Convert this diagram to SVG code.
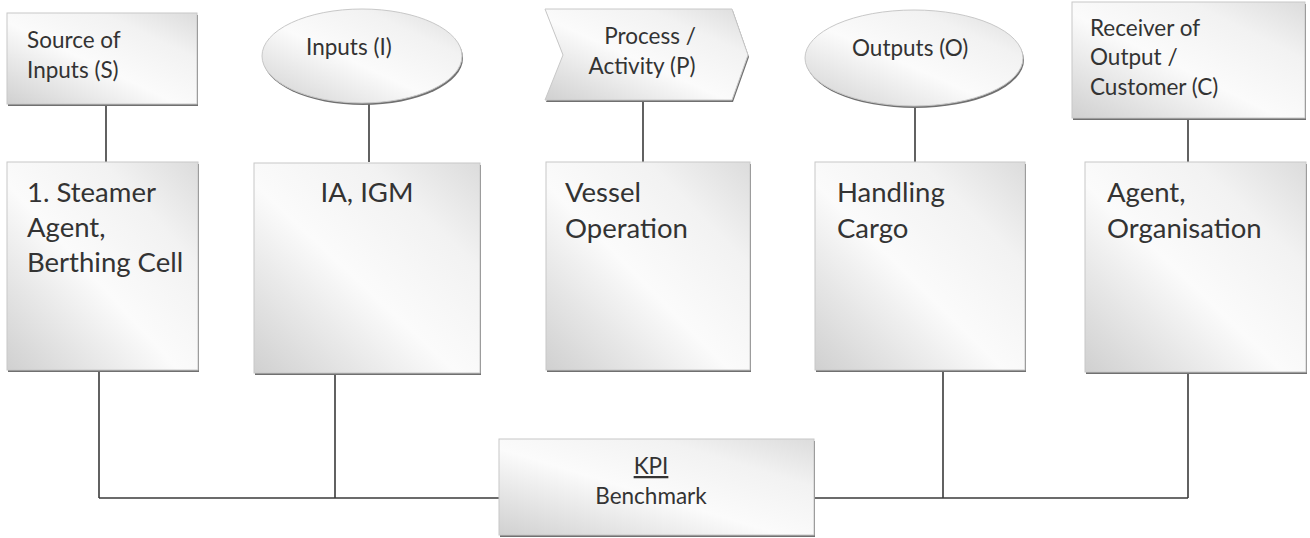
<svg xmlns="http://www.w3.org/2000/svg" width="1310" height="538" viewBox="0 0 1310 538">
<defs>
<linearGradient id="g" x1="0" y1="1" x2="1" y2="0">
<stop offset="0" stop-color="#d0d0d0"/>
<stop offset="0.45" stop-color="#fbfbfb"/>
<stop offset="0.75" stop-color="#f2f2f2"/>
<stop offset="1" stop-color="#dcdcdc"/>
</linearGradient>
<style>
.sh{fill:#707070}
.bx{fill:url(#g);stroke:#c8c8c8;stroke-width:1}
.t{font-family:Lato,"Liberation Sans",sans-serif;fill:#333333}
.s{font-size:22.5px}
.l{font-size:27.5px}
.c{stroke:#3a3a3a;stroke-width:1.6;fill:none}
</style>
</defs>
<rect width="1310" height="538" fill="#ffffff"/>
<g id="connectors">
<line class="c" x1="106" y1="104" x2="106" y2="162"/>
<line class="c" x1="369" y1="104" x2="369" y2="162"/>
<line class="c" x1="643" y1="100" x2="643" y2="162"/>
<line class="c" x1="915" y1="107" x2="915" y2="162"/>
<line class="c" x1="1188" y1="118" x2="1188" y2="162"/>
<line class="c" x1="99" y1="370" x2="99" y2="498"/>
<line class="c" x1="335" y1="373" x2="335" y2="498"/>
<line class="c" x1="943" y1="370" x2="943" y2="498"/>
<line class="c" x1="1188" y1="372" x2="1188" y2="498"/>
<polyline class="c" points="99,498 499,498"/>
<polyline class="c" points="814,498 1188,498"/>
</g>
<g id="source">
<rect class="sh" x="8" y="15" width="190" height="91"/>
<rect class="bx" x="7" y="13" width="190" height="91"/>
<text class="t s" x="27" y="48">Source of</text>
<text class="t s" x="27" y="78">Inputs (S)</text>
</g>
<g id="inputs">
<ellipse class="sh" cx="363" cy="58" rx="100" ry="47"/>
<ellipse class="bx" cx="362" cy="56" rx="100" ry="47"/>
<text class="t s" x="306" y="55">Inputs (I)</text>
</g>
<g id="process">
<path class="sh" d="M546,11 L733,11 L749,57 L733,102 L546,102 L564,57 Z"/>
<path class="bx" d="M545,9 L732,9 L748,55 L732,100 L545,100 L563,55 Z"/>
<text class="t s" x="650" y="44" text-anchor="middle">Process /</text>
<text class="t s" x="642" y="74" text-anchor="middle">Activity (P)</text>
</g>
<g id="outputs">
<ellipse class="sh" cx="915" cy="60" rx="109" ry="48"/>
<ellipse class="bx" cx="914" cy="58" rx="109" ry="48"/>
<text class="t s" x="852" y="56">Outputs (O)</text>
</g>
<g id="receiver">
<rect class="sh" x="1073" y="4" width="233" height="116"/>
<rect class="bx" x="1072" y="2" width="233" height="116"/>
<text class="t s" x="1090" y="36">Receiver of</text>
<text class="t s" x="1090" y="65">Output /</text>
<text class="t s" x="1090" y="95">Customer (C)</text>
</g>
<g id="steamer">
<rect class="sh" x="8" y="164" width="191" height="208"/>
<rect class="bx" x="7" y="162" width="191" height="208"/>
<text class="t l" x="27" y="202">1. Steamer</text>
<text class="t l" x="27" y="237">Agent,</text>
<text class="t l" x="27" y="272">Berthing Cell</text>
</g>
<g id="ia-igm">
<rect class="sh" x="255" y="165" width="226" height="210"/>
<rect class="bx" x="254" y="163" width="226" height="210"/>
<text class="t l" x="367" y="202" text-anchor="middle">IA, IGM</text>
</g>
<g id="vessel">
<rect class="sh" x="547" y="164" width="204" height="208"/>
<rect class="bx" x="546" y="162" width="204" height="208"/>
<text class="t l" x="565" y="202">Vessel</text>
<text class="t l" x="565" y="238">Operation</text>
</g>
<g id="handling">
<rect class="sh" x="816" y="164" width="210" height="208"/>
<rect class="bx" x="815" y="162" width="210" height="208"/>
<text class="t l" x="837" y="202">Handling</text>
<text class="t l" x="837" y="238">Cargo</text>
</g>
<g id="agent">
<rect class="sh" x="1086" y="164" width="221" height="210"/>
<rect class="bx" x="1085" y="162" width="221" height="210"/>
<text class="t l" x="1107" y="202">Agent,</text>
<text class="t l" x="1107" y="238">Organisation</text>
</g>
<g id="kpi">
<rect class="sh" x="500" y="441" width="315" height="96"/>
<rect class="bx" x="499" y="439" width="315" height="96"/>
<text class="t s" x="651" y="474" text-anchor="middle" text-decoration="underline">KPI</text>
<text class="t s" x="651" y="504" text-anchor="middle">Benchmark</text>
</g>
</svg>
